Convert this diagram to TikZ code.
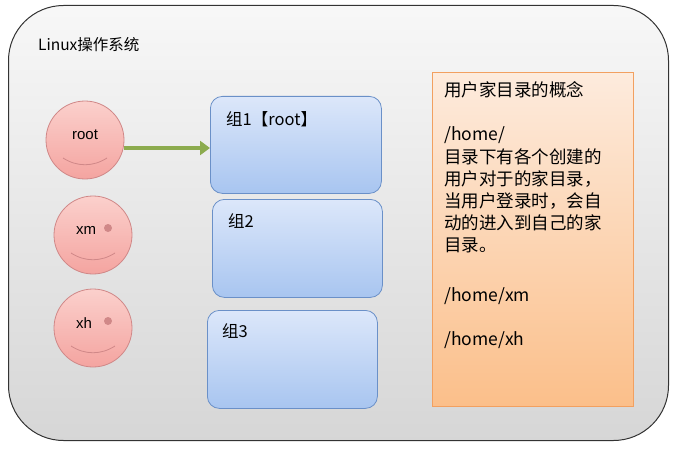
\documentclass[tikz,border=0pt]{standalone}
\usepackage{fontspec}
\usetikzlibrary{arrows.meta}
\setmainfont{Liberation Sans}
\newfontfamily\cjk{Noto Sans CJK SC}
\definecolor{gtop}{HTML}{DCE7FA}\definecolor{gbot}{HTML}{A8C5F0}\definecolor{gbrd}{HTML}{6A90C8}
\definecolor{ftop}{HTML}{FBD0CC}\definecolor{fbot}{HTML}{F4A4A0}\definecolor{fbrd}{HTML}{D08888}
\definecolor{otop}{HTML}{FDEBDD}\definecolor{obot}{HTML}{FBBF8A}\definecolor{obrd}{HTML}{F2A060}
\definecolor{arr}{HTML}{8CAB4E}
\begin{document}
\begin{tikzpicture}[x=1pt,y=-1pt,
  face/.style={draw=fbrd, top color=ftop, bottom color=fbot, line width=0.8pt},
  grp/.style={draw=gbrd, rounded corners=12pt, top color=gtop, bottom color=gbot, line width=0.8pt},
  lbl/.style={font=\cjk\fontsize{17.5}{20}\selectfont, anchor=west, inner sep=0pt}]
\useasboundingbox (0,0) rectangle (675,452);
\fill[white] (0,0) rectangle (675,452);
\node[draw=black!80, line width=1pt, rounded corners=55pt, top color=gray!6, bottom color=gray!32, minimum width=660pt, minimum height=435pt, anchor=north west] (os) at (8,5) {};
\node[lbl, font=\cjk\fontsize{15.5}{18}\selectfont] (title) at (38,45) {Linux操作系统};
% faces
\foreach \n/\x/\y/\t/\dx in {f1/85/140/root/0, f2/93/235/xm/-7, f3/93/328/xh/-9}{
  \node[face, circle, minimum size=78pt] (\n) at (\x,\y) {};
  \node[font=\fontsize{15}{18}\selectfont, inner sep=0pt] (\n t) at (\x+\dx,\y-5) {\t};
  \draw[fbrd, line width=0.8pt] (\x-22,\y+18) .. controls (\x-8,\y+27) and (\x+8,\y+27) .. (\x+22,\y+18);
}
\fill[fbrd] (108,228) circle (4pt);
\fill[fbrd] (108,321) circle (4pt);
% groups
\node[grp, minimum width=171pt, minimum height=97pt, anchor=north west] (g1) at (210,96) {};
\node[grp, minimum width=170pt, minimum height=98pt, anchor=north west] (g2) at (212,199) {};
\node[grp, minimum width=170pt, minimum height=98pt, anchor=north west] (g3) at (207,310) {};
\node[lbl, font=\cjk\fontsize{16.5}{19}\selectfont] (g1t) at (226,119) {组1【root】};
\node[lbl, font=\cjk\fontsize{16.5}{19}\selectfont] (g2t) at (228,221) {组2};
\node[lbl, font=\cjk\fontsize{16.5}{19}\selectfont] (g3t) at (222,331) {组3};
\draw[-{Triangle[length=10pt,width=14pt]}, line width=4pt, arr] (f1.east |- 0,148) -- (g1.west |- 0,148);
% right box
\node[draw=obrd, line width=0.8pt, top color=otop, bottom color=obot, minimum width=201pt, minimum height=334pt, anchor=north west] (home) at (432,72) {};
\foreach \y/\t in {90/{用户家目录的概念}, 135/{/home/}, 157/{目录下有各个创建的}, 179/{用户对于的家目录，}, 201/{当用户登录时，会自}, 223/{动的进入到自己的家}, 245/{目录。}, 296/{/home/xm}, 340/{/home/xh}}
  \node[lbl] at (444,\y) {\t};
\end{tikzpicture}
\end{document}
